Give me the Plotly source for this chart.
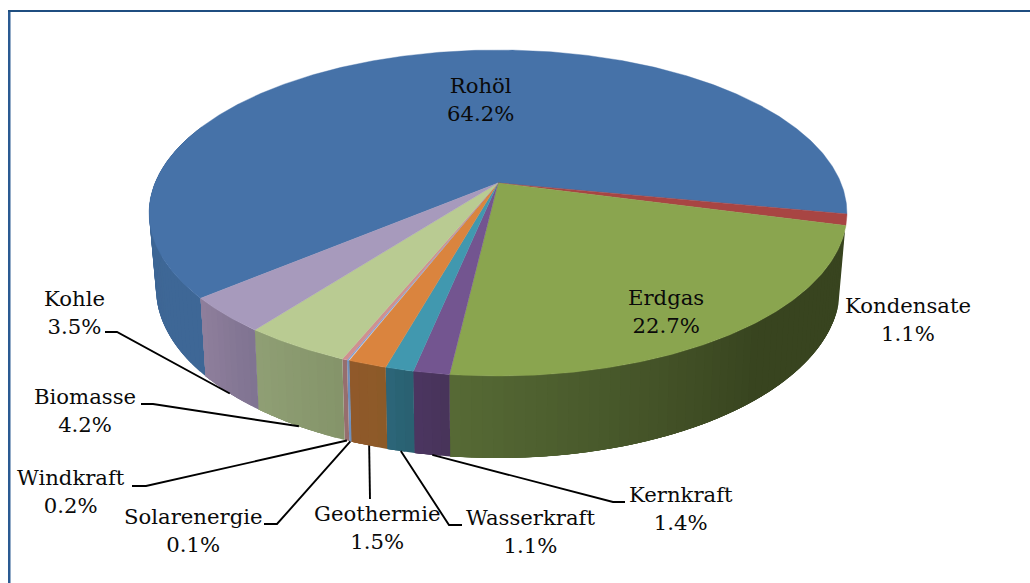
import numpy as np
import plotly.graph_objects as go

# ---- data ----
categories = ["Rohöl", "Kondensate", "Erdgas", "Kernkraft", "Wasserkraft",
              "Geothermie", "Solarenergie", "Windkraft", "Biomasse", "Kohle"]
values = [64.2, 1.1, 22.7, 1.4, 1.1, 1.5, 0.1, 0.2, 4.2, 3.5]

# ---- styles ----
top_colors = ["#4672A8", "#A84543", "#8AA54F", "#735590", "#4198AF",
              "#DA843E", "#7F9FD4", "#CF9090", "#B9CB92", "#A79ABC"]
wall_from = ["#3E6796", "#6E2C2B", "#38441F", "#483459", "#296070",
             "#8C5A28", "#6F90BD", "#966E6E", "#84946A", "#7F7391"]
wall_to = ["#38608E", "#6E2C2B", "#566A35", "#4B3561", "#2C6679",
           "#90592A", "#6F90BD", "#966E6E", "#909F74", "#8F7F9C"]
FONT = "DejaVu Serif"
FONT_SIZE = 21.2
ROTATION = 10.95         # degrees clockwise from 3 o'clock at which the first slice ends

# perspective of the two discs
CX = 498.0
TOP = dict(y0=183.0, a=343.0, b=157.5, k=0.184)
BOT = dict(y0=255.7, a=335.8, b=163.9, k=0.19)

# label placement (centre x, centre y of the two lines) and leader knees
label_pos = {
    "Rohöl": (480, 99), "Kondensate": (908, 319), "Erdgas": (666, 311),
    "Kernkraft": (681, 508), "Wasserkraft": (530, 531), "Geothermie": (377, 527),
    "Solarenergie": (193, 530), "Windkraft": (71, 491), "Biomasse": (85, 410),
    "Kohle": (74, 312),
}
knees = {
    "Kernkraft": [(625, 502), (613, 502)],
    "Wasserkraft": [(462, 525), (449, 525)],
    "Geothermie": [(370, 499)],
    "Solarenergie": [(264, 524), (277, 524)],
    "Windkraft": [(132, 486), (146, 486)],
    "Biomasse": [(141, 404), (153, 404)],
    "Kohle": [(105, 332), (117, 332)],
}


def project(theta_deg, disc):
    t = np.radians(theta_deg)
    u, v = np.cos(t), np.sin(t)
    w = 1 - disc["k"] * v
    return CX + disc["a"] * u / w, disc["y0"] + disc["b"] * v / w


def mix(c0, c1, t):
    a = [int(c0[i:i + 2], 16) for i in (1, 3, 5)]
    b = [int(c1[i:i + 2], 16) for i in (1, 3, 5)]
    return "rgb({},{},{})".format(*[round(p + (q - p) * t) for p, q in zip(a, b)])


sweep = 3.6 * np.array(values)
ends = ROTATION - sweep[0] + np.cumsum(sweep)
starts = ends - sweep

fig = go.Figure()

# side walls, in overlapping bands so the shading can run along them without seams
for i, name in enumerate(categories):
    n = max(1, int(np.ceil(sweep[i] / 1.5)))
    edges = np.linspace(starts[i], ends[i], n + 1)
    for j in range(n):
        mid = np.radians((edges[j] + edges[j + 1]) / 2)
        s, c = np.sin(mid), np.cos(mid)
        if not (s > 0.27 or (c < 0 and s > -0.3)):
            continue
        stop = min(edges[j] + 6, ends[i])
        th = np.linspace(edges[j], stop, 8)
        xt, yt = project(th, TOP)
        xb, yb = project(th[::-1], BOT)
        f = (j + 0.5) / n
        if name == "Erdgas":
            f = min(1, max(0, (f - 0.42) / 0.58))
        col = mix(wall_from[i], wall_to[i], f)
        fig.add_trace(go.Scatter(
            x=np.r_[xt, xb], y=np.r_[yt, yb], mode="lines", fill="toself",
            fillcolor=col, line=dict(color=col, width=0),
            hoverinfo="skip", showlegend=False))

# top faces
for i, name in enumerate(categories):
    th = np.linspace(starts[i], ends[i], max(4, int(sweep[i] * 2) + 1))
    x, y = project(th, TOP)
    ax, ay = project(0.0, dict(TOP, a=0.0, b=0.0))
    fig.add_trace(go.Scatter(
        x=np.r_[ax, x, ax], y=np.r_[ay, y, ay], mode="lines", fill="toself",
        fillcolor=top_colors[i], line=dict(color=top_colors[i], width=0.4),
        name=name, hoverinfo="skip", showlegend=False))

# leader lines, from the lower rim at the middle of each slice to the label
for i, name in enumerate(categories):
    if name not in knees:
        continue
    ex, ey = project((starts[i] + ends[i]) / 2, BOT)
    pts = knees[name]
    fig.add_trace(go.Scatter(
        x=[p[0] for p in pts] + [float(ex)], y=[p[1] for p in pts] + [float(ey)],
        mode="lines", line=dict(color="#000000", width=1.9),
        hoverinfo="skip", showlegend=False))

# labels
annotations = []
for name, val in zip(categories, values):
    lx, ly = label_pos[name]
    annotations.append(dict(
        x=lx, y=ly, xref="x", yref="y", text=f"{name}<br>{val}%", showarrow=False,
        align="center", xanchor="center", yanchor="middle",
        font=dict(family=FONT, size=FONT_SIZE, color="#0A0A0A")))

# frame
shapes = [
    dict(type="rect", xref="x", yref="y", x0=8, x1=10.5, y0=10, y1=583,
         fillcolor="#2A5A92", line_width=0, layer="below"),
    dict(type="rect", xref="x", yref="y", x0=8, x1=1030, y0=10, y1=12,
         fillcolor="#1F4E80", line_width=0, layer="below"),
]

fig.update_layout(
    width=1030, height=583, margin=dict(l=0, r=0, t=0, b=0),
    paper_bgcolor="white", plot_bgcolor="white", showlegend=False,
    xaxis=dict(range=[0, 1030], visible=False, fixedrange=True),
    yaxis=dict(range=[583, 0], visible=False, fixedrange=True),
    annotations=annotations, shapes=shapes,
)

fig.write_html("out.html", config={"displayModeBar": False},
               post_script="document.body.style.margin='0';document.body.style.overflow='hidden';")
